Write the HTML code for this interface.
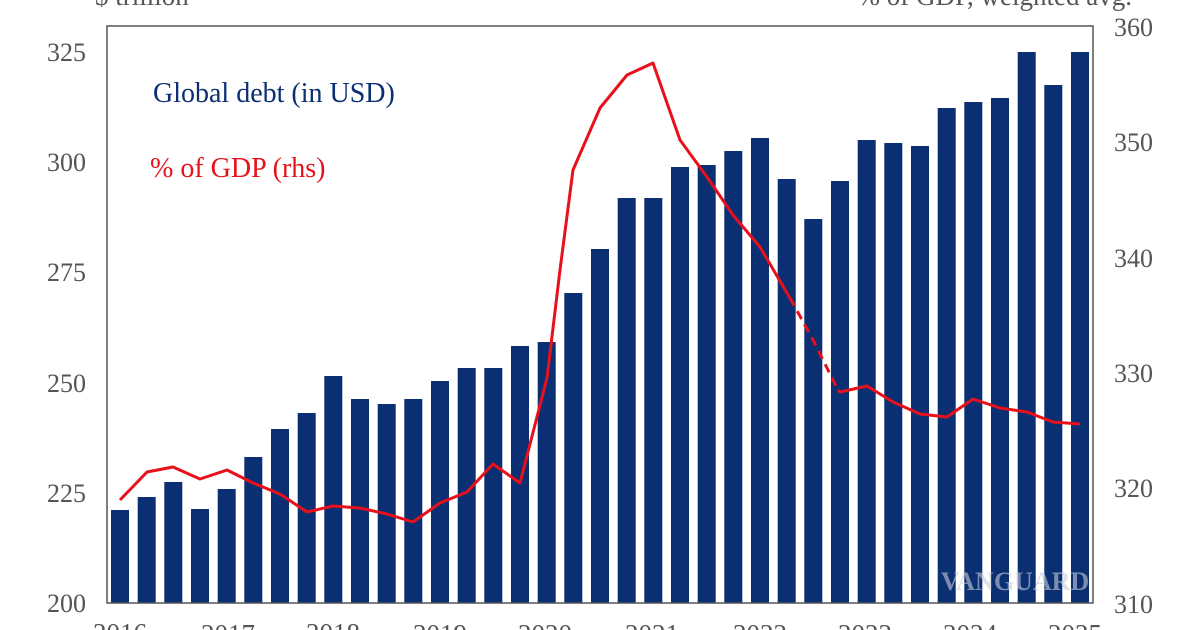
<!DOCTYPE html>
<html><head><style>
body{margin:0;background:#fff;}
svg{display:block;font-family:"Liberation Serif",serif;}
</style></head><body>
<svg width="1200" height="630" viewBox="0 0 1200 630">
<text x="95" y="5" font-size="27" fill="#555">$ trillion</text>
<text x="1132" y="5" font-size="27" fill="#555" text-anchor="end">% of GDP, weighted avg.</text>
<g font-size="26" fill="#555" text-anchor="end">
<text x="86" y="612">200</text><text x="86" y="502">225</text><text x="86" y="392">250</text>
<text x="86" y="281">275</text><text x="86" y="171">300</text><text x="86" y="61">325</text>
</g>
<g font-size="26" fill="#555">
<text x="1114" y="613">310</text><text x="1114" y="497">320</text><text x="1114" y="382">330</text>
<text x="1114" y="267">340</text><text x="1114" y="151">350</text><text x="1114" y="36">360</text>
</g>
<g font-size="27" fill="#555" text-anchor="middle">
<text x="120" y="642">2016</text><text x="228" y="643">2017</text><text x="333" y="642">2018</text>
<text x="440" y="643">2019</text><text x="545" y="643">2020</text><text x="652" y="643">2021</text>
<text x="760" y="643">2022</text><text x="865" y="643">2023</text><text x="970" y="643">2024</text>
<text x="1075" y="643">2025</text>
</g>
<g fill="#0a2f73">
<rect x="111.0" y="510" width="18" height="93"/>
<rect x="137.7" y="497" width="18" height="106"/>
<rect x="164.3" y="482" width="18" height="121"/>
<rect x="191.0" y="509" width="18" height="94"/>
<rect x="217.7" y="489" width="18" height="114"/>
<rect x="244.3" y="457" width="18" height="146"/>
<rect x="271.0" y="429" width="18" height="174"/>
<rect x="297.7" y="413" width="18" height="190"/>
<rect x="324.3" y="376" width="18" height="227"/>
<rect x="351.0" y="399" width="18" height="204"/>
<rect x="377.7" y="404" width="18" height="199"/>
<rect x="404.3" y="399" width="18" height="204"/>
<rect x="431.0" y="381" width="18" height="222"/>
<rect x="457.7" y="368" width="18" height="235"/>
<rect x="484.3" y="368" width="18" height="235"/>
<rect x="511.0" y="346" width="18" height="257"/>
<rect x="537.7" y="342" width="18" height="261"/>
<rect x="564.3" y="293" width="18" height="310"/>
<rect x="591.0" y="249" width="18" height="354"/>
<rect x="617.7" y="198" width="18" height="405"/>
<rect x="644.3" y="198" width="18" height="405"/>
<rect x="671.0" y="167" width="18" height="436"/>
<rect x="697.7" y="165" width="18" height="438"/>
<rect x="724.3" y="151" width="18" height="452"/>
<rect x="751.0" y="138" width="18" height="465"/>
<rect x="777.7" y="179" width="18" height="424"/>
<rect x="804.3" y="219" width="18" height="384"/>
<rect x="831.0" y="181" width="18" height="422"/>
<rect x="857.7" y="140" width="18" height="463"/>
<rect x="884.3" y="143" width="18" height="460"/>
<rect x="911.0" y="146" width="18" height="457"/>
<rect x="937.7" y="108" width="18" height="495"/>
<rect x="964.3" y="102" width="18" height="501"/>
<rect x="991.0" y="98" width="18" height="505"/>
<rect x="1017.7" y="52" width="18" height="551"/>
<rect x="1044.3" y="85" width="18" height="518"/>
<rect x="1071.0" y="52" width="18" height="551"/>
</g>
<text x="1015" y="590" font-size="26" font-weight="bold" fill="#c8cdd8" fill-opacity="0.6" text-anchor="middle">VANGUARD</text>
<rect x="107" y="26" width="986" height="577" fill="none" stroke="#555" stroke-width="1.5"/>
<polyline fill="none" stroke="#e8101a" stroke-width="3" stroke-linejoin="round" points="120,500 147,472 173,467 200,479 227,470 253,483 280,494 307,512 333,506 360,508 387,514 413,522 440,503 467,492 493,464 520,483 547,378 560,270 573,170 600,108 627,75 653,63 680,140 707,177 733,215 760,247 787,293 790,298"/>
<polyline fill="none" stroke="#e8101a" stroke-width="3" stroke-dasharray="9,6" points="790,298 813,340 838,390"/>
<polyline fill="none" stroke="#e8101a" stroke-width="3" stroke-linejoin="round" points="838,390 840,392 867,386 893,402 920,414 947,417 973,399 1000,408 1027,412 1053,422 1080,424"/>
<text x="153" y="102" font-size="28" fill="#0a2f73">Global debt (in USD)</text>
<text x="150" y="177" font-size="28" fill="#e8101a">% of GDP (rhs)</text>
</svg>
</body></html>
